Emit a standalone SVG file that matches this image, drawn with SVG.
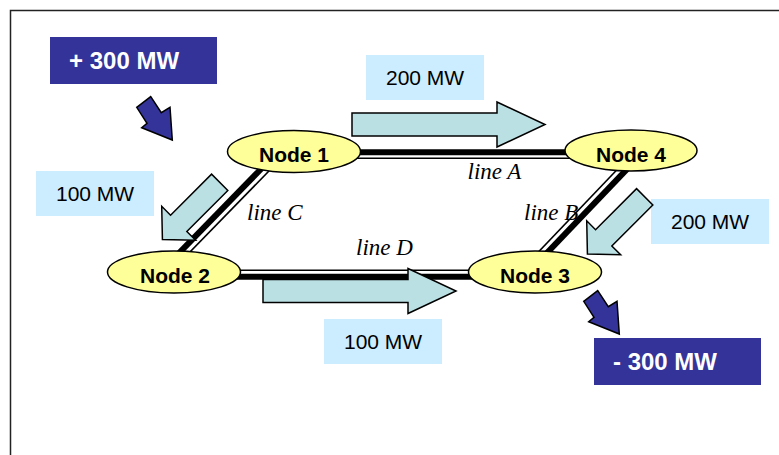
<svg xmlns="http://www.w3.org/2000/svg" width="779" height="455" viewBox="0 0 779 455">
<style>
.frame{fill:none;stroke:#222;stroke-width:1.5}
.lbl{fill:#CCECFF}
.lbltxt{font-family:"Liberation Sans",Arial,sans-serif;font-size:21px;fill:#000}
.big{fill:#333399}
.bigtxt{font-family:"Liberation Sans",Arial,sans-serif;font-size:24px;font-weight:bold;fill:#fff}
.node{fill:#FFFF99;stroke:#000;stroke-width:1.5}
.ntxt{font-family:"Liberation Sans",Arial,sans-serif;font-size:21px;font-weight:bold;fill:#000;text-anchor:middle}
.ltxt{font-family:"Liberation Serif","Times New Roman",serif;font-size:23px;font-style:italic;fill:#000}
.thick{stroke:#000;stroke-width:6;fill:none}
.thin{stroke:#000;stroke-width:1.6;fill:none}
.flow{fill:#BBE0E3;stroke:#000;stroke-width:1.5;stroke-linejoin:miter}
.inj{fill:#333399;stroke:#000;stroke-width:1.5}
</style>
<defs>
<polygon id="harrow" points="0,-11.5 145,-11.5 145,-22.5 193,0 145,22.5 145,11.5 0,11.5"/>
<polygon id="darrow" points="0,-11.5 58,-11.5 58,-24 81,0 58,24 58,11.5 0,11.5"/>
<polygon id="barrow" points="136.7,107.3 150.7,96.7 161.3,112.7 170,107.3 172.3,140 141.7,127.7 147,123.3"/>
</defs>
<rect width="779" height="455" fill="#fff"/>
<path class="frame" d="M10.5,455 V10.5 H779"/>

<g id="flow-labels">
<rect class="lbl" x="366" y="55" width="118" height="45"/>
<text class="lbltxt" x="386" y="85">200 MW</text>
<rect class="lbl" x="36" y="171" width="118" height="45"/>
<text class="lbltxt" x="56" y="201">100 MW</text>
<rect class="lbl" x="651" y="199" width="118" height="45"/>
<text class="lbltxt" x="671" y="229">200 MW</text>
<rect class="lbl" x="324" y="319" width="118" height="45"/>
<text class="lbltxt" x="344" y="349">100 MW</text>
</g>

<g id="line-labels">
<text class="ltxt" x="467.5" y="178.5">line A</text>
<text class="ltxt" x="524" y="219.5">line B</text>
<text class="ltxt" x="247" y="219.5">line C</text>
<text class="ltxt" x="356" y="255">line D</text>
</g>

<g id="connectors">
<g id="lineA"><line class="thick" x1="294" y1="152.2" x2="631" y2="152.2"/><line class="thin" x1="294" y1="158.2" x2="631" y2="158.2"/></g>
<g id="lineB"><line class="thick" x1="642.5" y1="152.9" x2="526.5" y2="274.4"/><line class="thin" x1="637.5" y1="148.2" x2="521.5" y2="269.7"/></g>
<g id="lineC"><line class="thick" x1="280.5" y1="149" x2="163.5" y2="269"/><line class="thin" x1="285.5" y1="154" x2="168.5" y2="274"/></g>
<g id="lineD"><line class="thick" x1="174" y1="276.8" x2="535" y2="276.8"/><line class="thin" x1="174" y1="270.3" x2="535" y2="270.3"/></g>
</g>

<g id="flows">
<use href="#harrow" class="flow" transform="translate(352,124.5)"/>
<use href="#harrow" class="flow" transform="translate(263,291)"/>
<use href="#darrow" class="flow" transform="translate(219.7,182.3) rotate(135)"/>
<use href="#darrow" class="flow" transform="translate(644.7,196.8) rotate(135)"/>
</g>

<g id="node1"><ellipse class="node" cx="294" cy="151.5" rx="66.5" ry="21"/><text class="ntxt" x="294" y="162.3">Node 1</text></g>
<g id="node4"><ellipse class="node" cx="631" cy="150.5" rx="66" ry="20.5"/><text class="ntxt" x="631" y="161.7">Node 4</text></g>
<g id="node2"><ellipse class="node" cx="174" cy="272" rx="66.5" ry="21"/><text class="ntxt" x="175" y="282.7">Node 2</text></g>
<g id="node3"><ellipse class="node" cx="535" cy="272" rx="66.5" ry="21"/><text class="ntxt" x="535" y="282.7">Node 3</text></g>

<g id="injection">
<use href="#barrow" class="inj"/>
<rect class="big" x="50" y="37" width="167" height="47"/>
<text class="bigtxt" x="69" y="69.3">+ 300 MW</text>
</g>
<g id="withdrawal">
<use href="#barrow" class="inj" transform="translate(447,194)"/>
<rect class="big" x="594" y="338" width="167" height="47"/>
<text class="bigtxt" x="613" y="370">- 300 MW</text>
</g>
</svg>
